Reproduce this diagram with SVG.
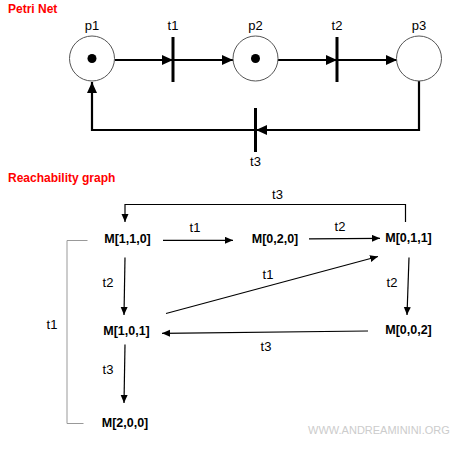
<svg xmlns="http://www.w3.org/2000/svg" width="464" height="454" viewBox="0 0 464 454">
<style>
.title{font-family:"Liberation Sans",Arial,sans-serif;font-size:12px;font-weight:bold;fill:#ff0000}
.lbl{font-family:"Liberation Sans",Arial,sans-serif;font-size:13px;fill:#000;text-anchor:middle}
.m{font-family:"Liberation Sans",Arial,sans-serif;font-size:12.5px;font-weight:bold;fill:#000;text-anchor:middle}
.place{fill:#fff;stroke:#555;stroke-width:1}
.bar{stroke:#000;stroke-width:3}
.pe{fill:none;stroke:#000;stroke-width:2.2}
.re{fill:none;stroke:#000;stroke-width:1.2}
.wm{font-family:"Liberation Sans",Arial,sans-serif;font-size:11px;fill:#cccccc}
</style>
<defs>
<marker id="bigArrow" markerUnits="userSpaceOnUse" markerWidth="12" markerHeight="11" refX="11" refY="5" orient="auto">
<path d="M0,0 L11,5 L0,10 Z" fill="#000"/>
</marker>
<marker id="arrow" markerUnits="userSpaceOnUse" markerWidth="9" markerHeight="8" refX="8" refY="3.5" orient="auto">
<path d="M0,0 L8,3.5 L0,7 Z" fill="#000"/>
</marker>
</defs>
<rect width="464" height="454" fill="#fff"/>
<text class="title" x="8" y="13">Petri Net</text>
<text class="title" x="8" y="182">Reachability graph</text>

<g id="connectors">
<line class="pe" x1="115" y1="60" x2="173" y2="60" marker-end="url(#bigArrow)"/>
<line class="pe" x1="173" y1="60" x2="233" y2="60" marker-end="url(#bigArrow)"/>
<line class="pe" x1="278" y1="60" x2="337" y2="60" marker-end="url(#bigArrow)"/>
<line class="pe" x1="337" y1="60" x2="397" y2="60" marker-end="url(#bigArrow)"/>
<polyline class="pe" points="419,81 419,130 256,130" marker-end="url(#bigArrow)"/>
<polyline class="pe" points="256,130 92,130 92,82" marker-end="url(#bigArrow)"/>

<polyline class="re" points="405.5,222 405.5,204.5 125,204.5 125,222" marker-end="url(#arrow)"/>
<line class="re" x1="163" y1="240.3" x2="233" y2="240.3" marker-end="url(#arrow)"/>
<line class="re" x1="309" y1="238.8" x2="380" y2="238.3" marker-end="url(#arrow)"/>
<line class="re" x1="125" y1="257.5" x2="124" y2="315" marker-end="url(#arrow)"/>
<line class="re" x1="166" y1="313.5" x2="378" y2="256.5" marker-end="url(#arrow)"/>
<line class="re" x1="409" y1="257.5" x2="407" y2="315" marker-end="url(#arrow)"/>
<line class="re" x1="368" y1="331" x2="162" y2="333.3" marker-end="url(#arrow)"/>
<line class="re" x1="125" y1="344.5" x2="124" y2="403" marker-end="url(#arrow)"/>
<polyline points="87.5,240.5 67,240.5 67,423.5 83.5,423.5" fill="none" stroke="#999" stroke-width="1"/>

<text class="lbl" x="277.5" y="199">t3</text>
<text class="lbl" x="195" y="231.5">t1</text>
<text class="lbl" x="340" y="230.5">t2</text>
<text class="lbl" x="108" y="287">t2</text>
<text class="lbl" x="268" y="279">t1</text>
<text class="lbl" x="392" y="287">t2</text>
<text class="lbl" x="266" y="351">t3</text>
<text class="lbl" x="108" y="373.5">t3</text>
<text class="lbl" x="52" y="328.5">t1</text>
</g>

<g id="p1">
<circle class="place" cx="92" cy="58.5" r="22.5"/>
<circle cx="92" cy="58.5" r="4.5" fill="#000"/>
<text class="lbl" x="92" y="29.5">p1</text>
</g>
<g id="t1">
<line class="bar" x1="173" y1="37" x2="173" y2="82"/>
<text class="lbl" x="173" y="29.5">t1</text>
</g>
<g id="p2">
<circle class="place" cx="255.5" cy="58.5" r="22.5"/>
<circle cx="255.5" cy="58.5" r="4.5" fill="#000"/>
<text class="lbl" x="255.5" y="29.5">p2</text>
</g>
<g id="t2">
<line class="bar" x1="337" y1="37" x2="337" y2="82"/>
<text class="lbl" x="337" y="29.5">t2</text>
</g>
<g id="p3">
<circle class="place" cx="419" cy="58.5" r="22.5"/>
<text class="lbl" x="419" y="29.5">p3</text>
</g>
<g id="t3">
<line class="bar" x1="255.5" y1="108" x2="255.5" y2="152"/>
<text class="lbl" x="255.5" y="166">t3</text>
</g>

<g id="M110"><text class="m" x="127.5" y="243">M[1,1,0]</text></g>
<g id="M020"><text class="m" x="275" y="243">M[0,2,0]</text></g>
<g id="M011"><text class="m" x="408.5" y="242">M[0,1,1]</text></g>
<g id="M101"><text class="m" x="126.5" y="335">M[1,0,1]</text></g>
<g id="M002"><text class="m" x="408.5" y="333.5">M[0,0,2]</text></g>
<g id="M200"><text class="m" x="125" y="427">M[2,0,0]</text></g>

<text class="wm" x="308" y="433.5">WWW.ANDREAMININI.ORG</text>
</svg>
